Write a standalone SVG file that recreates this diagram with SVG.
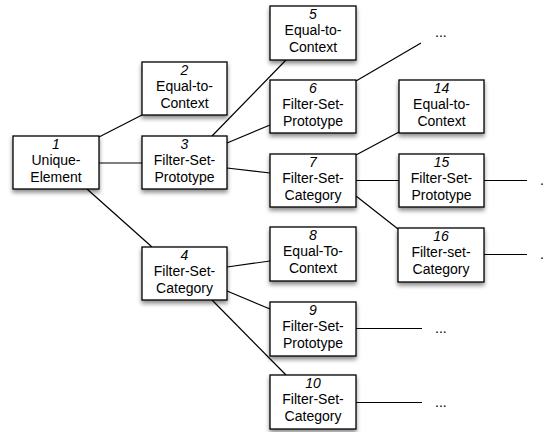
<svg xmlns="http://www.w3.org/2000/svg" width="544" height="432" viewBox="0 0 544 432">
<defs>
<filter id="sh" x="-20%" y="-20%" width="150%" height="160%">
<feDropShadow dx="0" dy="3" stdDeviation="2" flood-color="#000" flood-opacity="0.45"/>
</filter>
<style>
.box{fill:#fff;stroke:#000;stroke-width:1.3;filter:url(#sh)}
.t{font-family:"Liberation Sans",Arial,sans-serif;font-size:14px;fill:#000;text-anchor:middle}
.n{font-style:italic}
.c line{stroke:#000;stroke-width:1.2}
.d{font-family:"Liberation Sans",Arial,sans-serif;font-size:14px;fill:#000}
</style>
</defs>
<rect width="544" height="432" fill="#fff"/>
<g class="c" id="connectors">
<line x1="99" y1="137" x2="142" y2="115"/>
<line x1="99" y1="163" x2="142" y2="163"/>
<line x1="87" y1="189" x2="152" y2="247"/>
<line x1="212" y1="136" x2="286" y2="60"/>
<line x1="227" y1="143" x2="270" y2="125"/>
<line x1="227" y1="168" x2="270" y2="173"/>
<line x1="356" y1="81" x2="421" y2="43"/>
<line x1="356" y1="155" x2="399" y2="132"/>
<line x1="356" y1="180.5" x2="399" y2="180.5"/>
<line x1="484" y1="180.5" x2="527" y2="180.5"/>
<line x1="356" y1="196" x2="398" y2="229"/>
<line x1="484" y1="254.5" x2="527" y2="254.5"/>
<line x1="227" y1="267" x2="270" y2="261"/>
<line x1="227" y1="291" x2="270" y2="309"/>
<line x1="212" y1="300" x2="286" y2="375"/>
<line x1="356" y1="328.5" x2="422" y2="328.5"/>
<line x1="356" y1="402.5" x2="422" y2="402.5"/>
</g>
<g id="n1"><rect class="box" x="13" y="136" width="86" height="53"/><text class="t" x="56" y="148.5"><tspan class="n">1</tspan><tspan x="56" dy="16.5">Unique-</tspan><tspan x="56" dy="16.5">Element</tspan></text></g>
<g id="n2"><rect class="box" x="142" y="62" width="85" height="53"/><text class="t" x="184.5" y="74.5"><tspan class="n">2</tspan><tspan x="184.5" dy="16.5">Equal-to-</tspan><tspan x="184.5" dy="16.5">Context</tspan></text></g>
<g id="n3"><rect class="box" x="142" y="136" width="85" height="53"/><text class="t" x="184.5" y="148.5"><tspan class="n">3</tspan><tspan x="184.5" dy="16.5">Filter-Set-</tspan><tspan x="184.5" dy="16.5">Prototype</tspan></text></g>
<g id="n4"><rect class="box" x="142" y="247" width="85" height="53"/><text class="t" x="184.5" y="259.5"><tspan class="n">4</tspan><tspan x="184.5" dy="16.5">Filter-Set-</tspan><tspan x="184.5" dy="16.5">Category</tspan></text></g>
<g id="n5"><rect class="box" x="270" y="6" width="86" height="54"/><text class="t" x="313" y="18.5"><tspan class="n">5</tspan><tspan x="313" dy="16.5">Equal-to-</tspan><tspan x="313" dy="16.5">Context</tspan></text></g>
<g id="n6"><rect class="box" x="270" y="80" width="86" height="53"/><text class="t" x="313" y="92.5"><tspan class="n">6</tspan><tspan x="313" dy="16.5">Filter-Set-</tspan><tspan x="313" dy="16.5">Prototype</tspan></text></g>
<g id="n7"><rect class="box" x="270" y="154" width="86" height="53"/><text class="t" x="313" y="166.5"><tspan class="n">7</tspan><tspan x="313" dy="16.5">Filter-Set-</tspan><tspan x="313" dy="16.5">Category</tspan></text></g>
<g id="n8"><rect class="box" x="270" y="227" width="86" height="54"/><text class="t" x="313" y="239.5"><tspan class="n">8</tspan><tspan x="313" dy="16.5">Equal-To-</tspan><tspan x="313" dy="16.5">Context</tspan></text></g>
<g id="n9"><rect class="box" x="270" y="302" width="86" height="54"/><text class="t" x="313" y="314.5"><tspan class="n">9</tspan><tspan x="313" dy="16.5">Filter-Set-</tspan><tspan x="313" dy="16.5">Prototype</tspan></text></g>
<g id="n10"><rect class="box" x="270" y="375" width="86" height="54"/><text class="t" x="313" y="387.5"><tspan class="n">10</tspan><tspan x="313" dy="16.5">Filter-Set-</tspan><tspan x="313" dy="16.5">Category</tspan></text></g>
<g id="n14"><rect class="box" x="399" y="80" width="85" height="53"/><text class="t" x="441.5" y="92.5"><tspan class="n">14</tspan><tspan x="441.5" dy="16.5">Equal-to-</tspan><tspan x="441.5" dy="16.5">Context</tspan></text></g>
<g id="n15"><rect class="box" x="399" y="154" width="85" height="53"/><text class="t" x="441.5" y="166.5"><tspan class="n">15</tspan><tspan x="441.5" dy="16.5">Filter-Set-</tspan><tspan x="441.5" dy="16.5">Prototype</tspan></text></g>
<g id="n16"><rect class="box" x="398" y="228" width="86" height="54"/><text class="t" x="441" y="240.5"><tspan class="n">16</tspan><tspan x="441" dy="16.5">Filter-set-</tspan><tspan x="441" dy="16.5">Category</tspan></text></g>
<g id="ellipses">
<text class="d" x="435" y="37">...</text>
<text class="d" x="540" y="185">...</text>
<text class="d" x="540" y="259">...</text>
<text class="d" x="435" y="333">...</text>
<text class="d" x="435" y="407">...</text>
</g>
</svg>
